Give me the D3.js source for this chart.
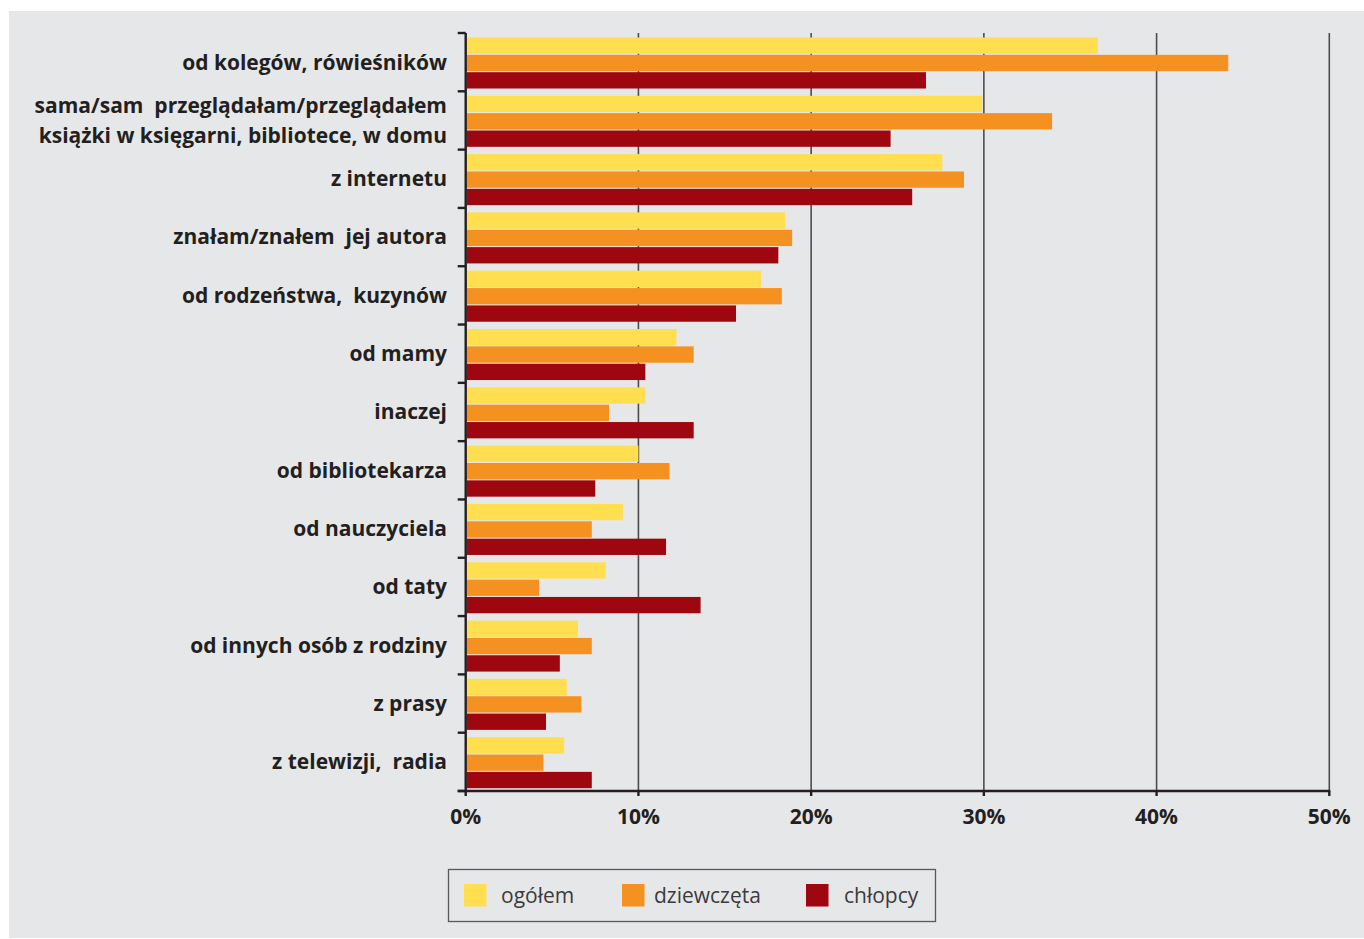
<!DOCTYPE html>
<html><head><meta charset="utf-8">
<script src="https://cdn.jsdelivr.net/npm/d3@7"></script>
<style>
html,body{margin:0;padding:0;background:#fff;}
svg{display:block;}
.lab text{white-space:pre;}
</style></head>
<body>
<svg id="chart" width="1364" height="939"></svg>
<script>
const categories = [
  ["od kolegów, rówieśników"],
  ["sama/sam  przeglądałam/przeglądałem", "książki w księgarni, bibliotece, w domu"],
  ["z internetu"],
  ["znałam/znałem  jej autora"],
  ["od rodzeństwa,  kuzynów"],
  ["od mamy"],
  ["inaczej"],
  ["od bibliotekarza"],
  ["od nauczyciela"],
  ["od taty"],
  ["od innych osób z rodziny"],
  ["z prasy"],
  ["z telewizji,  radia"]
];
const seriesNames = ["ogółem", "dziewczęta", "chłopcy"];
const ogolem     = [36.6, 29.9, 27.6, 18.5, 17.1, 12.2, 10.4, 10.0, 9.1, 8.1, 6.5, 5.85, 5.7];
const dziewczeta = [44.15, 33.95, 28.85, 18.9, 18.3, 13.2, 8.3, 11.8, 7.3, 4.25, 7.3, 6.7, 4.5];
const chlopcy    = [26.65, 24.6, 25.85, 18.1, 15.65, 10.4, 13.2, 7.5, 11.6, 13.6, 5.45, 4.65, 7.3];
const tickValues = [0, 10, 20, 30, 40, 50];
const colors = ["#FFDE4F", "#F59120", "#9E0610"];

const series = [ogolem, dziewczeta, chlopcy];
const svg = d3.select("#chart");

svg.append("rect").attr("x", 9).attr("y", 11).attr("width", 1355).attr("height", 927).attr("fill", "#E6E7E8");

const x0 = 465.7, x1 = 1329.3, yTop = 33, yBot = 791;
const x = d3.scaleLinear().domain([0, 50]).range([x0, x1]);
const y = d3.scaleBand().domain(d3.range(categories.length)).range([yTop, yBot]).padding(0);
const sub = d3.scaleBand().domain(d3.range(3)).range([4.5, 55.5]).paddingInner(0.06);

// gridlines
svg.append("g").selectAll("line").data(tickValues.filter(d => d > 0)).join("line")
  .attr("x1", d => x(d)).attr("x2", d => x(d))
  .attr("y1", yTop).attr("y2", yBot)
  .attr("stroke", "#4d4d4f").attr("stroke-width", 1.6);

// bars
const groups = svg.append("g").selectAll("g").data(categories).join("g")
  .attr("transform", (d, i) => `translate(0,${y(i)})`);
groups.selectAll("rect").data((d, i) => series.map((s, k) => ({k, v: s[i]}))).join("rect")
  .attr("x", x(0) + 1)
  .attr("y", d => sub(d.k))
  .attr("height", sub.bandwidth())
  .attr("width", d => x(d.v) - x(0) - 1)
  .attr("fill", d => colors[d.k]);

// left axis
const yAxis = svg.append("g");
yAxis.append("line").attr("x1", x0).attr("x2", x0).attr("y1", yTop).attr("y2", yBot)
  .attr("stroke", "#231f20").attr("stroke-width", 2.4);
yAxis.selectAll("line.t").data(d3.range(categories.length + 1)).join("line").attr("class", "t")
  .attr("x1", x0 - 8).attr("x2", x0)
  .attr("y1", d => yTop + d * y.step()).attr("y2", d => yTop + d * y.step())
  .attr("stroke", "#231f20").attr("stroke-width", 2.4);

// category labels
const lab = svg.append("g").attr("class", "lab").attr("font-family", "'Open Sans', sans-serif").attr("font-weight", 700)
  .attr("font-size", 21).attr("fill", "#231f20").attr("text-anchor", "end");
categories.forEach((lines, i) => {
  const cy = y(i) + y.bandwidth() / 2;
  lines.forEach((t, j) => {
    lab.append("text").attr("x", 447)
      .attr("y", cy + (j - (lines.length - 1) / 2) * 30)
      .attr("dy", "0.35em").text(t);
  });
});

// bottom axis
const xa = svg.append("g");
xa.append("line").attr("x1", x0 - 8).attr("x2", x1 + 1).attr("y1", yBot).attr("y2", yBot)
  .attr("stroke", "#231f20").attr("stroke-width", 2.6);
xa.selectAll("line.t").data(tickValues).join("line").attr("class", "t")
  .attr("x1", d => x(d)).attr("x2", d => x(d)).attr("y1", yBot).attr("y2", yBot + 5)
  .attr("stroke", "#231f20").attr("stroke-width", 2.4);
xa.selectAll("text").data(tickValues).join("text")
  .attr("x", d => x(d)).attr("y", 824)
  .attr("text-anchor", "middle")
  .attr("font-family", "'Open Sans', sans-serif").attr("font-weight", 700).attr("font-size", 21)
  .attr("fill", "#231f20").text(d => d + "%");

// legend
const lg = svg.append("g");
lg.append("rect").attr("x", 448.5).attr("y", 869.5).attr("width", 487).attr("height", 52)
  .attr("fill", "none").attr("stroke", "#58595b").attr("stroke-width", 1.3);
const legX = [464, 622, 806];
const legTX = [501, 654, 844];
seriesNames.forEach((n, k) => {
  lg.append("rect").attr("x", legX[k]).attr("y", 884).attr("width", 22.5).attr("height", 22.5).attr("fill", colors[k]);
  lg.append("text").attr("x", legTX[k]).attr("y", 895.5).attr("dy", "0.35em")
    .attr("font-family", "'Open Sans', sans-serif").attr("font-size", 21).attr("fill", "#3b3b3d").text(n);
});
</script>
</body></html>
